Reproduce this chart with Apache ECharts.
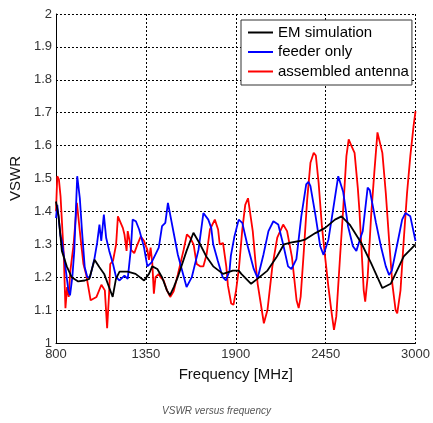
<!DOCTYPE html>
<html>
<head>
<meta charset="utf-8">
<script src="https://cdn.jsdelivr.net/npm/echarts@6/dist/echarts.min.js"></script>
<style>html,body{margin:0;padding:0;background:#fff;}#c{width:433px;height:423px;}</style>
</head>
<body>
<div id="c"></div>
<script>
var seriesNames = ['EM simulation', 'feeder only', 'assembled antenna'];
var xTicks = [800, 1350, 1900, 2450, 3000];

var emFreq = [800,816,836,866,896,936,976,1004,1036,1066,1095,1147,1167,1189,1239,1287,1339,1369,1389,1420,1449,1479,1497,1521,1545,1599,1641,1682,1720,1762,1822,1882,1918,1934,1994,2032,2094,2152,2195,2235,2291,2327,2387,2447,2507,2547,2597,2668,2728,2797,2848,2928,3000];
var emVswr = [1.43,1.385,1.28,1.233,1.20,1.187,1.19,1.195,1.253,1.23,1.21,1.14,1.195,1.217,1.217,1.21,1.19,1.21,1.233,1.225,1.20,1.16,1.145,1.17,1.20,1.28,1.335,1.30,1.263,1.233,1.21,1.22,1.22,1.21,1.18,1.195,1.22,1.263,1.30,1.305,1.31,1.315,1.334,1.35,1.375,1.385,1.36,1.304,1.243,1.167,1.18,1.263,1.30];

var feederFreq = [800,808,828,836,852,876,886,900,912,930,946,960,976,992,1008,1036,1052,1066,1077,1093,1107,1126,1149,1168,1189,1219,1239,1259,1269,1289,1309,1339,1359,1369,1385,1429,1449,1469,1485,1495,1520,1545,1561,1599,1631,1672,1702,1714,1732,1750,1762,1790,1820,1840,1862,1870,1892,1918,1940,1970,2010,2034,2070,2100,2130,2160,2190,2220,2241,2271,2301,2331,2345,2357,2387,2417,2437,2467,2497,2527,2557,2587,2617,2638,2663,2677,2707,2720,2758,2788,2818,2838,2855,2888,2918,2938,2968,3000];
var feederVswr = [1.38,1.42,1.325,1.31,1.253,1.16,1.145,1.20,1.28,1.507,1.44,1.335,1.23,1.20,1.20,1.258,1.305,1.36,1.31,1.39,1.32,1.28,1.24,1.20,1.19,1.205,1.195,1.29,1.375,1.37,1.345,1.29,1.233,1.238,1.245,1.29,1.355,1.365,1.426,1.40,1.335,1.27,1.24,1.17,1.20,1.283,1.395,1.395,1.375,1.35,1.30,1.25,1.20,1.19,1.22,1.265,1.324,1.375,1.365,1.30,1.225,1.197,1.27,1.34,1.37,1.36,1.30,1.233,1.225,1.255,1.385,1.482,1.49,1.477,1.39,1.294,1.268,1.314,1.41,1.507,1.46,1.355,1.294,1.28,1.32,1.34,1.472,1.465,1.365,1.294,1.233,1.207,1.22,1.30,1.375,1.395,1.385,1.31];

var antennaFreq = [800,808,818,828,848,858,868,878,888,908,928,948,968,984,1012,1048,1078,1099,1113,1125,1132,1149,1168,1179,1189,1209,1219,1226,1232,1239,1249,1259,1279,1299,1319,1339,1359,1369,1379,1389,1399,1409,1429,1439,1459,1479,1499,1520,1545,1581,1601,1621,1642,1661,1682,1702,1722,1742,1772,1792,1802,1822,1842,1852,1872,1886,1902,1920,1940,1958,1975,2004,2020,2034,2072,2094,2124,2154,2190,2214,2244,2272,2285,2297,2317,2337,2357,2377,2390,2407,2427,2447,2467,2487,2501,2515,2537,2557,2577,2591,2607,2627,2647,2657,2668,2683,2692,2707,2728,2748,2767,2775,2797,2818,2838,2858,2878,2888,2908,2928,2948,2968,2988,3000];
var antennaVswr = [1.40,1.507,1.497,1.446,1.263,1.106,1.17,1.14,1.22,1.30,1.426,1.33,1.24,1.21,1.13,1.14,1.177,1.16,1.045,1.15,1.24,1.25,1.30,1.385,1.39,1.35,1.33,1.33,1.28,1.34,1.314,1.283,1.273,1.30,1.324,1.31,1.283,1.253,1.29,1.245,1.15,1.20,1.21,1.20,1.19,1.16,1.14,1.157,1.207,1.283,1.33,1.32,1.30,1.24,1.233,1.233,1.27,1.345,1.375,1.345,1.30,1.304,1.233,1.175,1.12,1.116,1.16,1.23,1.345,1.42,1.44,1.34,1.25,1.18,1.06,1.10,1.233,1.32,1.36,1.34,1.26,1.13,1.106,1.14,1.283,1.436,1.548,1.578,1.57,1.487,1.355,1.26,1.17,1.09,1.04,1.08,1.253,1.405,1.568,1.619,1.60,1.578,1.47,1.40,1.30,1.16,1.126,1.20,1.385,1.52,1.64,1.635,1.578,1.456,1.314,1.18,1.10,1.09,1.16,1.314,1.456,1.568,1.66,1.705];

function pairs(xs, ys) { return xs.map(function (x, i) { return [x, ys[i]]; }); }

var chart = echarts.init(document.getElementById('c'), null, {renderer: 'canvas'});
var font = 'Liberation Sans, Arial, sans-serif';
var grid = {lineStyle: {color: '#000', type: [2, 2], width: 1}};
chart.setOption({
  animation: false,
  backgroundColor: '#fff',
  grid: {left: 52, right: 15, top: 14, bottom: 80, containLabel: false},
  legend: {
    orient: 'vertical', left: 241, top: 20,
    padding: [5, 3, 6, 7],
    itemGap: 4.5, itemWidth: 25, itemHeight: 2, icon: 'rect',
    backgroundColor: '#fff', borderColor: '#333', borderWidth: 1,
    textStyle: {fontFamily: font, fontSize: 15, color: '#000', lineHeight: 15},
    data: seriesNames
  },
  xAxis: {
    type: 'value', min: xTicks[0], max: xTicks[xTicks.length - 1], interval: 550,
    name: 'Frequency [MHz]', nameLocation: 'middle', nameGap: 24,
    nameTextStyle: {fontFamily: font, fontSize: 15, color: '#111'},
    axisLine: {lineStyle: {color: '#000', width: 1}},
    axisTick: {show: false},
    axisLabel: {fontFamily: font, fontSize: 13, color: '#333', margin: 5, formatter: function (v) { return String(v); }},
    splitLine: grid
  },
  yAxis: {
    type: 'value', min: 1, max: 2, interval: 0.1,
    name: 'VSWR', nameLocation: 'middle', nameGap: 26,
    nameTextStyle: {fontFamily: font, fontSize: 15, color: '#111'},
    axisLine: {show: true, lineStyle: {color: '#000', width: 1}},
    axisTick: {show: false},
    axisLabel: {fontFamily: font, fontSize: 13, color: '#333', margin: 4, formatter: function (v) { return String(Math.round(v * 10) / 10); }},
    splitLine: grid
  },
  graphic: [{
    type: 'text', left: 'center', top: 406,
    style: {text: 'VSWR versus frequency', font: 'italic 10px Liberation Sans, Arial, sans-serif', fill: '#555'}
  }],
  series: [
    {name: seriesNames[0], type: 'line', data: pairs(emFreq, emVswr), symbol: 'none', lineStyle: {color: '#000', width: 1.8}, itemStyle: {color: '#000'}, z: 4},
    {name: seriesNames[1], type: 'line', data: pairs(feederFreq, feederVswr), symbol: 'none', lineStyle: {color: '#0000ff', width: 1.8}, itemStyle: {color: '#0000ff'}, z: 3},
    {name: seriesNames[2], type: 'line', data: pairs(antennaFreq, antennaVswr), symbol: 'none', lineStyle: {color: '#ff0000', width: 1.8}, itemStyle: {color: '#ff0000'}, z: 2}
  ]
});
</script>
</body>
</html>
